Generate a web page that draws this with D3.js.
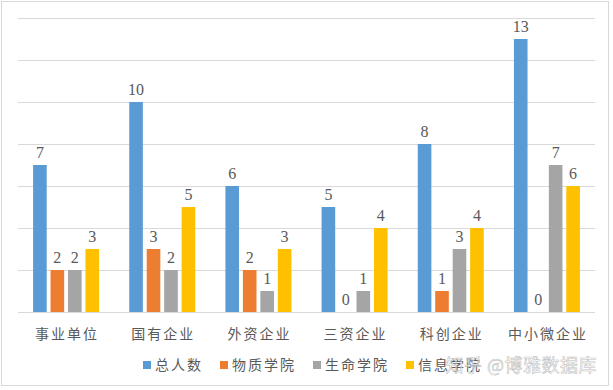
<!DOCTYPE html>
<html lang="zh">
<head>
<meta charset="UTF-8"/>
<title>就业单位分布</title>
<script src="https://d3js.org/d3.v7.min.js"></script>
<style>
  body { margin: 0; background: #fff; }
</style>
</head>
<body>
<script>
  var w = 613;
  var h = 390;

  // data
  var categories = ["事业单位", "国有企业", "外资企业", "三资企业", "科创企业", "中小微企业"];
  var seriesNames = ["总人数", "物质学院", "生命学院", "信息学院"];
  var total   = [7, 10, 6, 5, 8, 13];
  var wuzhi   = [2, 3, 2, 0, 1, 0];
  var shengming = [2, 2, 1, 1, 3, 7];
  var xinxi   = [3, 5, 3, 4, 4, 6];
  var yTicks  = [0, 2, 4, 6, 8, 10, 12, 14];

  var colors = ["#5B9BD5", "#ED7D31", "#A5A5A5", "#FFC000"];
  var seriesValues = [total, wuzhi, shengming, xinxi];

  var plotLeft = 18, plotRight = 595, plotTop = 18, plotBottom = 312;

  var svg = d3.select("body").append("svg")
      .attr("width", w)
      .attr("height", h);

  // outer border
  svg.append("rect")
      .attr("x", 1.5).attr("y", 1.5)
      .attr("width", 607).attr("height", 384)
      .attr("fill", "#fff")
      .attr("stroke", "#D9D9D9");

  var xScale = d3.scaleBand()
      .domain(categories)
      .range([plotLeft, plotRight]);

  var xInner = d3.scaleBand()
      .domain(d3.range(seriesNames.length))
      .range([0, 66])
      .paddingInner(0.22);

  var yScale = d3.scaleLinear()
      .domain([0, 14])
      .range([plotBottom, plotTop]);

  // gridlines
  svg.append("g")
    .selectAll("line")
    .data(yTicks)
    .enter()
    .append("line")
      .attr("x1", plotLeft)
      .attr("x2", plotRight)
      .attr("y1", function(d){ return Math.round(yScale(d)) + 0.5; })
      .attr("y2", function(d){ return Math.round(yScale(d)) + 0.5; })
      .attr("stroke", "#D9D9D9")
      .attr("stroke-width", 1);

  var groupOffset = (xScale.bandwidth() - 66) / 2;

  // bars + labels
  seriesValues.forEach(function(vals, s){
    var g = svg.append("g");
    g.selectAll("rect")
      .data(vals)
      .enter()
      .append("rect")
        .attr("x", function(d, i){ return xScale(categories[i]) + groupOffset + xInner(s); })
        .attr("y", function(d){ return yScale(d); })
        .attr("width", xInner.bandwidth())
        .attr("height", function(d){ return plotBottom - yScale(d); })
        .attr("fill", colors[s]);

    g.selectAll("text")
      .data(vals)
      .enter()
      .append("text")
        .text(function(d){ return d; })
        .attr("x", function(d, i){ return xScale(categories[i]) + groupOffset + xInner(s) + xInner.bandwidth() / 2; })
        .attr("y", function(d){ return yScale(d) - 7; })
        .attr("text-anchor", "middle")
        .attr("font-family", "Liberation Serif, serif")
        .attr("font-size", 16)
        .attr("fill", "#595959");
  });

  // category labels
  svg.append("g")
    .selectAll("text")
    .data(categories)
    .enter()
    .append("text")
      .text(function(d){ return d; })
      .attr("x", function(d){ return xScale(d) + xScale.bandwidth() / 2 + 1; })
      .attr("y", 339)
      .attr("text-anchor", "middle")
      .attr("font-family", "Noto Sans CJK SC, sans-serif")
      .attr("font-size", 14)
      .attr("letter-spacing", 2)
      .attr("fill", "#595959");

  // legend
  var legend = svg.append("g");
  var lx = 143;
  seriesNames.forEach(function(name, i){
    legend.append("rect")
      .attr("x", lx).attr("y", 361)
      .attr("width", 8).attr("height", 8)
      .attr("fill", colors[i]);
    var t = legend.append("text")
      .text(name)
      .attr("x", lx + 12)
      .attr("y", 370)
      .attr("font-family", "Noto Sans CJK SC, sans-serif")
      .attr("font-size", 14)
      .attr("letter-spacing", 2)
      .attr("fill", "#595959");
    lx += 12 + t.node().getComputedTextLength() + 17;
  });

  // watermark (sits over the last legend entry, as in the source image)
  svg.append("text")
    .text("知乎 @博雅数据库")
    .attr("x", 597)
    .attr("y", 372)
    .attr("text-anchor", "end")
    .attr("font-family", "Noto Sans CJK SC, sans-serif")
    .attr("font-size", 18)
    .attr("letter-spacing", 0.5)
    .attr("fill", "#ffffff")
    .attr("fill-opacity", 0.55)
    .attr("stroke", "#b0b0b0")
    .attr("stroke-width", 0.6)
    .attr("stroke-opacity", 0.8);
</script>
</body>
</html>
